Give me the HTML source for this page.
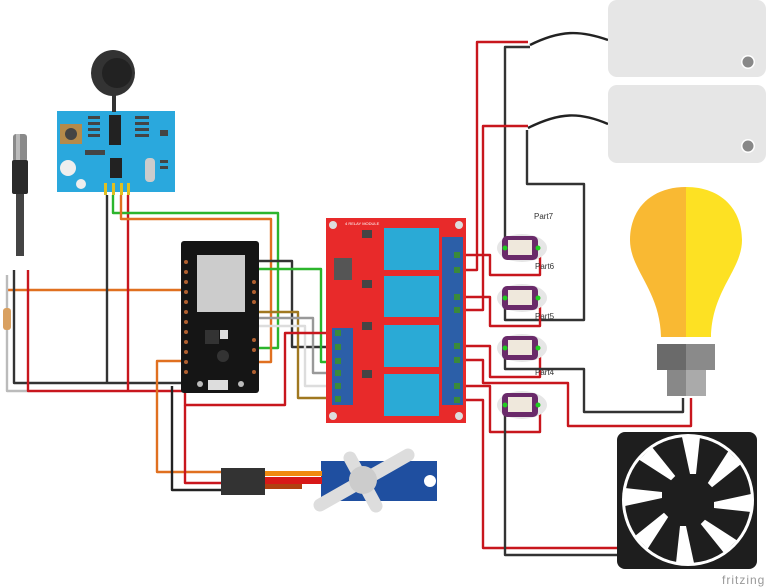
<!DOCTYPE html>
<html><head><meta charset="utf-8"><style>html,body{margin:0;padding:0;background:#fff}svg{display:block}</style></head>
<body>
<svg width="768" height="588" viewBox="0 0 768 588" xmlns="http://www.w3.org/2000/svg" font-family="Liberation Sans, sans-serif">
<g fill="none" stroke-width="2.4" stroke-linejoin="round">
<!-- left wires -->
<polyline points="7,290 182,290" stroke="#e07020"/>
<polyline points="7,275 7,391 28,391" stroke="#bbb"/>
<polyline points="14,270 14,383 182,383" stroke="#333"/>
<polyline points="28,270 28,391 182,391" stroke="#c8161d"/>
<polyline points="107,195 107,383" stroke="#333"/>
<polyline points="128,195 128,391" stroke="#c8161d"/>
<polyline points="113,195 113,213 278,213 278,348 257,348" stroke="#2cb52c"/>
<polyline points="121,195 121,219 271,219 271,362 257,362" stroke="#e07020"/>
<polyline points="257,261 292,261 292,347 333,347" stroke="#333"/>
<polyline points="257,269 321,269 321,362 333,362" stroke="#2cb52c"/>
<polyline points="257,312 298,312 298,398 333,398" stroke="#a07820"/>
<polyline points="257,318 313,318 313,373 333,373" stroke="#999"/>
<polyline points="257,326 305,326 305,386 333,386" stroke="#ddd"/>
<polyline points="185,392 185,405 285,405 285,333 333,333" stroke="#c8161d"/>
<polyline points="182,361 157,361 157,472 222,472" stroke="#e07020"/>
<polyline points="172,386 172,490 222,490" stroke="#222"/>
<polyline points="185,405 185,483 222,483" stroke="#c8161d"/>
<!-- right wires -->
<polyline points="462,270 477,270 477,42 528,42" stroke="#c8161d"/>
<polyline points="505,248 505,47 530,47" stroke="#333"/>
<path d="M530,45 C560,30 580,30 608,40" stroke="#222"/>
<polyline points="462,310 483,310 483,126 528,126" stroke="#c8161d"/>
<polyline points="527,130 527,184 584,184 584,320 505,320 505,298" stroke="#333"/>
<path d="M528,128 C560,112 580,112 608,124" stroke="#222"/>
<polyline points="462,255 490,255 490,275 540,275 540,250" stroke="#c8161d"/>
<polyline points="462,297 490,297 490,326 540,326 540,300" stroke="#c8161d"/>
<polyline points="462,346 490,346 490,377 540,377 540,352" stroke="#c8161d"/>
<polyline points="462,360 483,360 483,383 568,383 568,426 691,426 691,398" stroke="#c8161d"/>
<polyline points="462,386 490,386 490,432 540,432 540,408" stroke="#c8161d"/>
<polyline points="462,400 483,400 483,548 620,548" stroke="#c8161d"/>
<polyline points="505,348 505,369 584,369 584,412 683,412 683,398" stroke="#333"/>
<polyline points="505,405 505,555 620,555" stroke="#333"/>
</g>
<!-- probe -->
<rect x="13" y="134" width="14" height="28" rx="3" fill="#8a8a8a"/>
<rect x="16" y="134" width="4" height="28" fill="#bbb"/>
<rect x="12" y="160" width="16" height="34" rx="2" fill="#2a2a2a"/>
<rect x="16" y="194" width="8" height="62" fill="#444"/>
<rect x="3" y="308" width="8" height="22" rx="3" fill="#d9a060"/>
<!-- sensor -->
<rect x="57" y="111" width="118" height="81" fill="#2aa8dd"/>
<rect x="112" y="88" width="4" height="24" fill="#333"/>
<ellipse cx="113" cy="73" rx="22" ry="23" fill="#333"/>
<circle cx="117" cy="73" r="15" fill="#222"/>
<rect x="60" y="124" width="22" height="20" fill="#b58a4a"/><circle cx="71" cy="134" r="6" fill="#444"/>
<rect x="109" y="115" width="12" height="30" fill="#222"/>
<rect x="110" y="158" width="12" height="20" fill="#222"/>
<rect x="145" y="158" width="10" height="24" rx="4" fill="#ccc"/>
<circle cx="68" cy="168" r="8" fill="#eee"/><circle cx="81" cy="184" r="5" fill="#eee"/>
<g fill="#444"><rect x="88" y="116" width="12" height="3"/><rect x="88" y="122" width="12" height="3"/><rect x="88" y="128" width="12" height="3"/><rect x="88" y="134" width="12" height="3"/><rect x="135" y="116" width="14" height="3"/><rect x="135" y="122" width="14" height="3"/><rect x="135" y="128" width="14" height="3"/><rect x="135" y="134" width="14" height="3"/><rect x="160" y="130" width="8" height="6"/><rect x="160" y="160" width="8" height="3"/><rect x="160" y="166" width="8" height="3"/><rect x="85" y="150" width="20" height="5"/></g>
<g fill="#e0c020"><rect x="104" y="183" width="3" height="12"/><rect x="112" y="183" width="3" height="12"/><rect x="120" y="183" width="3" height="12"/><rect x="127" y="183" width="3" height="12"/></g>
<!-- ESP32 -->
<rect x="181" y="241" width="78" height="152" rx="3" fill="#151515"/>
<rect x="197" y="255" width="48" height="57" fill="#ccc"/>
<g fill="#b06030"><circle cx="186" cy="262" r="2"/><circle cx="186" cy="272" r="2"/><circle cx="186" cy="282" r="2"/><circle cx="186" cy="292" r="2"/><circle cx="186" cy="302" r="2"/><circle cx="186" cy="312" r="2"/><circle cx="186" cy="322" r="2"/><circle cx="186" cy="332" r="2"/><circle cx="186" cy="342" r="2"/><circle cx="186" cy="352" r="2"/><circle cx="186" cy="362" r="2"/><circle cx="186" cy="372" r="2"/><circle cx="254" cy="282" r="2"/><circle cx="254" cy="292" r="2"/><circle cx="254" cy="302" r="2"/><circle cx="254" cy="340" r="2"/><circle cx="254" cy="350" r="2"/><circle cx="254" cy="372" r="2"/></g>
<rect x="205" y="330" width="14" height="14" fill="#333"/><rect x="220" y="330" width="8" height="9" fill="#ddd"/><circle cx="223" cy="356" r="6" fill="#333"/>
<rect x="208" y="380" width="20" height="10" fill="#ddd"/>
<circle cx="200" cy="384" r="3" fill="#bbb"/><circle cx="241" cy="384" r="3" fill="#bbb"/>
<!-- relay board -->
<rect x="326" y="218" width="140" height="205" fill="#e82a2a"/>
<g fill="#ddd"><circle cx="333" cy="225" r="4"/><circle cx="459" cy="225" r="4"/><circle cx="333" cy="416" r="4"/><circle cx="459" cy="416" r="4"/></g>
<text x="345" y="225" font-size="4" fill="#fff">4 RELAY MODULE</text>
<rect x="334" y="258" width="18" height="22" fill="#555"/>
<g fill="#2aaad6"><rect x="384" y="228" width="55" height="42"/><rect x="384" y="276" width="55" height="41"/><rect x="384" y="325" width="55" height="42"/><rect x="384" y="374" width="55" height="42"/></g>
<rect x="332" y="328" width="21" height="77" fill="#2c5fa8"/>
<rect x="442" y="237" width="21" height="168" fill="#2c5fa8"/>
<g fill="#3a8a3a"><rect x="335" y="330" width="6" height="6"/><rect x="335" y="344" width="6" height="6"/><rect x="335" y="358" width="6" height="6"/><rect x="335" y="370" width="6" height="6"/><rect x="335" y="383" width="6" height="6"/><rect x="335" y="396" width="6" height="6"/><rect x="454" y="252" width="6" height="6"/><rect x="454" y="267" width="6" height="6"/><rect x="454" y="294" width="6" height="6"/><rect x="454" y="307" width="6" height="6"/><rect x="454" y="343" width="6" height="6"/><rect x="454" y="357" width="6" height="6"/><rect x="454" y="383" width="6" height="6"/><rect x="454" y="397" width="6" height="6"/></g>
<g fill="#444"><rect x="362" y="230" width="10" height="8"/><rect x="362" y="280" width="10" height="8"/><rect x="362" y="322" width="10" height="8"/><rect x="362" y="370" width="10" height="8"/></g>
<!-- LEDs/parts -->
<g>
<ellipse cx="522" cy="248" rx="25" ry="14" fill="#e6e6e6"/><rect x="502" y="236" width="36" height="24" rx="5" fill="#6a2a6a"/><rect x="508" y="240" width="24" height="15" fill="#efe8dc"/>
<ellipse cx="522" cy="298" rx="25" ry="14" fill="#e6e6e6"/><rect x="502" y="286" width="36" height="24" rx="5" fill="#6a2a6a"/><rect x="508" y="290" width="24" height="15" fill="#efe8dc"/>
<ellipse cx="522" cy="348" rx="25" ry="14" fill="#e6e6e6"/><rect x="502" y="336" width="36" height="24" rx="5" fill="#6a2a6a"/><rect x="508" y="340" width="24" height="15" fill="#efe8dc"/>
<ellipse cx="522" cy="405" rx="25" ry="14" fill="#e6e6e6"/><rect x="502" y="393" width="36" height="24" rx="5" fill="#6a2a6a"/><rect x="508" y="397" width="24" height="15" fill="#efe8dc"/>
</g>
<g fill="#2c2"><circle cx="505" cy="248" r="2.5"/><circle cx="505" cy="298" r="2.5"/><circle cx="505" cy="348" r="2.5"/><circle cx="505" cy="405" r="2.5"/><circle cx="538" cy="248" r="2.5"/><circle cx="538" cy="298" r="2.5"/><circle cx="538" cy="348" r="2.5"/><circle cx="538" cy="405" r="2.5"/></g>
<g font-size="8" fill="#333"><text x="534" y="219">Part7</text><text x="535" y="269">Part6</text><text x="535" y="319">Part5</text><text x="535" y="375">Part4</text></g>
<!-- solenoids -->
<rect x="608" y="0" width="158" height="77" rx="9" fill="#e6e6e6"/>
<circle cx="748" cy="62" r="7" fill="#fff"/><circle cx="748" cy="62" r="5.5" fill="#888"/>
<rect x="608" y="85" width="158" height="78" rx="9" fill="#e6e6e6"/>
<circle cx="748" cy="146" r="7" fill="#fff"/><circle cx="748" cy="146" r="5.5" fill="#888"/>
<!-- bulb -->
<path d="M686,187 C650,187 630,210 630,240 C630,270 660,290 661,337 L686,337 Z" fill="#f9b933"/>
<path d="M686,187 C722,187 742,210 742,240 C742,270 712,290 711,337 L686,337 Z" fill="#fde123"/>
<rect x="657" y="344" width="29" height="26" fill="#6a6a6a"/><rect x="686" y="344" width="29" height="26" fill="#8a8a8a"/>
<rect x="667" y="370" width="19" height="26" fill="#888"/><rect x="686" y="370" width="20" height="26" fill="#aaa"/>
<!-- fan -->
<rect x="617" y="432" width="140" height="137" rx="8" fill="#1e1e1e"/>
<circle cx="688" cy="500" r="66" fill="#fff"/>
<circle cx="688" cy="500" r="63" fill="#1e1e1e"/>
<g fill="#fff" transform="translate(688,500)">
<polygon points="26,2 63,-6 63,12 26,8" transform="rotate(0)"/>
<polygon points="26,2 63,-6 63,12 26,8" transform="rotate(45)"/>
<polygon points="26,2 63,-6 63,12 26,8" transform="rotate(90)"/>
<polygon points="26,2 63,-6 63,12 26,8" transform="rotate(135)"/>
<polygon points="26,2 63,-6 63,12 26,8" transform="rotate(180)"/>
<polygon points="26,2 63,-6 63,12 26,8" transform="rotate(225)"/>
<polygon points="26,2 63,-6 63,12 26,8" transform="rotate(270)"/>
<polygon points="26,2 63,-6 63,12 26,8" transform="rotate(315)"/>
</g>
<text x="722" y="584" font-size="12" fill="#999" letter-spacing="1">fritzing</text>
<!-- servo -->
<rect x="321" y="461" width="116" height="40" fill="#1f4fa0"/>
<circle cx="430" cy="481" r="6" fill="#fff"/>
<rect x="262" y="471" width="60" height="5" fill="#f08a10"/>
<rect x="262" y="477" width="60" height="7" fill="#d81818"/>
<rect x="262" y="484" width="40" height="5" fill="#b04010"/>
<rect x="221" y="468" width="44" height="27" fill="#333"/>
<g stroke="#ddd" stroke-width="13" stroke-linecap="round"><line x1="350" y1="458" x2="376" y2="506"/><line x1="320" y1="505" x2="408" y2="455"/></g>
<circle cx="363" cy="480" r="14" fill="#ccc"/>
</svg>
</body></html>
